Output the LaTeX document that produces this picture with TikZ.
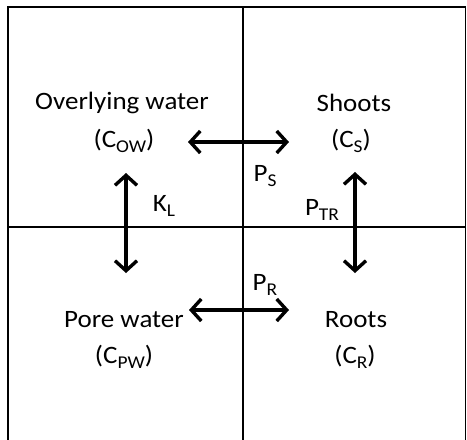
\documentclass[tikz,border=0pt]{standalone}
\usepackage{fontspec}
\setmainfont[FakeStretch=1.08]{Carlito}
\usepackage{tikz}
\usetikzlibrary{arrows.meta,positioning}
\newcommand{\csub}[1]{\raisebox{-0.22em}{\fontsize{18}{20}\selectfont #1}}

\begin{document}
\begin{tikzpicture}[x=1pt,y=-1pt,
    compart/.style={font=\fontsize{25}{30}\selectfont,inner sep=0pt},
    rate/.style={font=\fontsize{25}{30}\selectfont,inner sep=0pt},
    gridline/.style={line width=1.5pt},
    flux/.style={line width=3.4pt,
      {Straight Barb[length=10pt,width=22pt]}-{Straight Barb[length=10pt,width=22pt]}}]
  \useasboundingbox (0,0) rectangle (467,440);

  % Draw the compartment grid
  \draw[gridline] (8,440) -- (8,7) -- (465.5,7) -- (465.5,440);
  \draw[gridline] (243,7) -- (243,440);
  \draw[gridline] (8,227) -- (465.5,227);

  % Label the compartments
  \node[compart] (ow) at (122,103) {Overlying water};
  \node[compart] (cow) at (124,141) {(C\csub{OW})};
  \node[compart] (sh) at (354,103) {Shoots};
  \node[compart] (cs) at (351,141) {(C\csub{S})};
  \node[compart] (pw) at (124,320) {Pore water};
  \node[compart] (cpw) at (124,357) {(C\csub{PW})};
  \node[compart] (ro) at (356,320) {Roots};
  \node[compart] (cr) at (355,357) {(C\csub{R})};

  % Exchange rates
  \node[rate] (ps) at (265,176) {P\csub{S}};
  \node[rate] (kl) at (164,206) {K\csub{L}};
  \node[rate] (ptr) at (322,210) {P\csub{TR}};
  \node[rate] (pr) at (265,285) {P\csub{R}};

  % Arrow end points
  \coordinate (owE) at (188,142);
  \coordinate (shW) at (289,142);
  \coordinate (owS) at (126,173);
  \coordinate (pwN) at (126,273);
  \coordinate (shS) at (355,172);
  \coordinate (roN) at (355,273);
  \coordinate (pwE) at (189,310);
  \coordinate (roW) at (289,310);

  \draw[flux] (owE) -- (shW);
  \draw[flux] (owS) -- (pwN);
  \draw[flux] (shS) -- (roN);
  \draw[flux] (pwE) -- (roW);
\end{tikzpicture}
\end{document}
